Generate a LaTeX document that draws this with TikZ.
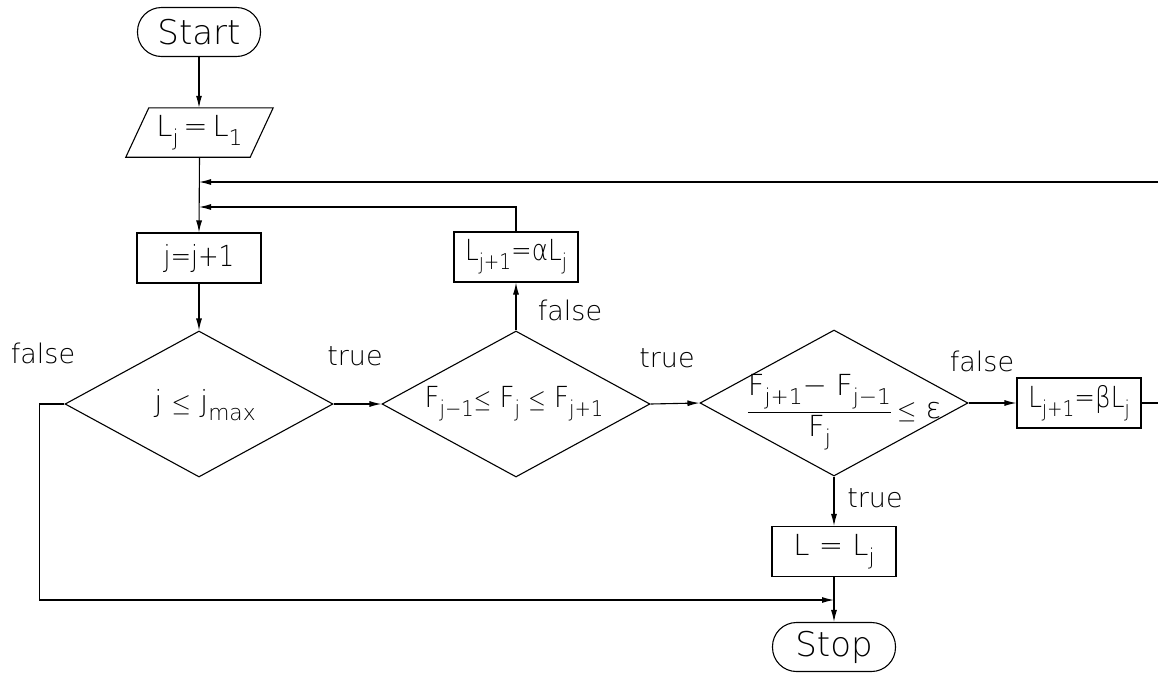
\documentclass[tikz,border=0pt]{standalone}
\usepackage{fontspec}
\usepackage{graphicx}
\usepackage{amsmath}
\IfFontExistsTF{DejaVu Sans ExtraLight}{\setmainfont{DejaVu Sans ExtraLight}}{\setmainfont{DejaVu Sans}}
\usetikzlibrary{shapes.geometric,arrows.meta}
\newcommand\lsub[1]{\raisebox{-0.3em}{\scalebox{0.75}{#1}}}
\newcommand\leqs{\ensuremath{\leq}}
\newcommand\narrow[2]{\scalebox{#1}[1]{#2}}
\tikzset{
  flow/.style={line width=1.1pt},
  arr/.style={flow,-{Latex[length=12pt,width=6pt]}},
  box/.style={draw,line width=1.1pt,minimum width=124pt,minimum height=50pt,inner sep=0pt,font=\fontsize{29}{34}\selectfont},
  pill/.style={box,rounded corners=24pt,minimum width=123pt,minimum height=49pt,font=\fontsize{34}{38}\selectfont},
  dia/.style={draw,diamond,line width=1.1pt,minimum width=268pt,minimum height=146pt,inner sep=0pt},
  txt/.style={inner sep=0pt,font=\fontsize{29}{34}\selectfont},
  lbl/.style={inner sep=0pt,font=\fontsize{27}{30}\selectfont}
}
\begin{document}
\begin{tikzpicture}[x=1pt,y=-1pt]
\useasboundingbox (0,0) rectangle (1158,675);
\clip (0,0) rectangle (1158,675);
% nodes
\node[pill] (start) at (199,32) {Start};
\node[txt,minimum width=147pt,minimum height=49pt] (par) at (199.5,132.5) {L\lsub{j}\,=\,L\lsub{1}};
\draw[flow] ([xshift=23pt]par.north west) -- (par.north east) -- ([xshift=-23pt]par.south east) -- (par.south west) -- cycle;
\node[box] (inc) at (199,258) {\narrow{0.85}{j=j+1}};
\node[dia] (d1) at (199,404) {};
\node[txt] (t1) at (205,405) {j \leqs{} j\lsub{max}};
\node[dia] (d2) at (516,404) {};
\node[txt] (t2) at (514,404) {\narrow{0.9}{F\lsub{j−1}\leqs{} F\lsub{j} \leqs{} F\lsub{j+1}}};
\node[dia] (d3) at (834,403) {};
\node[txt] (t3) at (844,412) {$\dfrac{\mbox{F\lsub{j+1}− F\lsub{j−1}}}{\mbox{F\lsub{j}}}$\,\leqs{} ε};
\node[box] (alpha) at (516,257) {\narrow{0.85}{L\lsub{j+1}=αL\lsub{j}}};
\node[box] (beta) at (1079,403) {\narrow{0.85}{L\lsub{j+1}=βL\lsub{j}}};
\node[box] (res) at (834,551.5) {L = L\lsub{j}};
\node[pill] (stop) at (834,647) {Stop};
\coordinate (m1) at (199,182);
\coordinate (m2) at (199,207);
\coordinate (s1) at (834,600);
% connectors
\draw[arr] (start.south) -- (start.south |- par.north);
\draw[arr] (par.south) -- (inc.north);
\draw[arr] (beta.east) -- ++(30,0) |- (m1);
\draw[arr] (alpha.north) |- (m2);
\draw[arr] (inc.south) -- (d1.north);
\draw[arr] (d1.east) -- (d2.west);
\draw[arr] (d2.east) -- (d3.west);
\draw[arr] (d2.north) -- (alpha.south);
\draw[arr] (d3.east) -- (beta.west);
\draw[arr] (d3.south) -- (res.north);
\draw[arr] (res.south) -- (stop.north);
\draw[arr] (d1.west) -- ++(-25,0) |- (s1);
% labels
\node[lbl] (lf1) at (43,353) {false};
\node[lbl] (lt1) at (355,356) {true};
\node[lbl] (lf2) at (570,310) {false};
\node[lbl] (lt2) at (667,358) {true};
\node[lbl] (lf3) at (982,361) {false};
\node[lbl] (lt3) at (875,498) {true};
\end{tikzpicture}
\end{document}
